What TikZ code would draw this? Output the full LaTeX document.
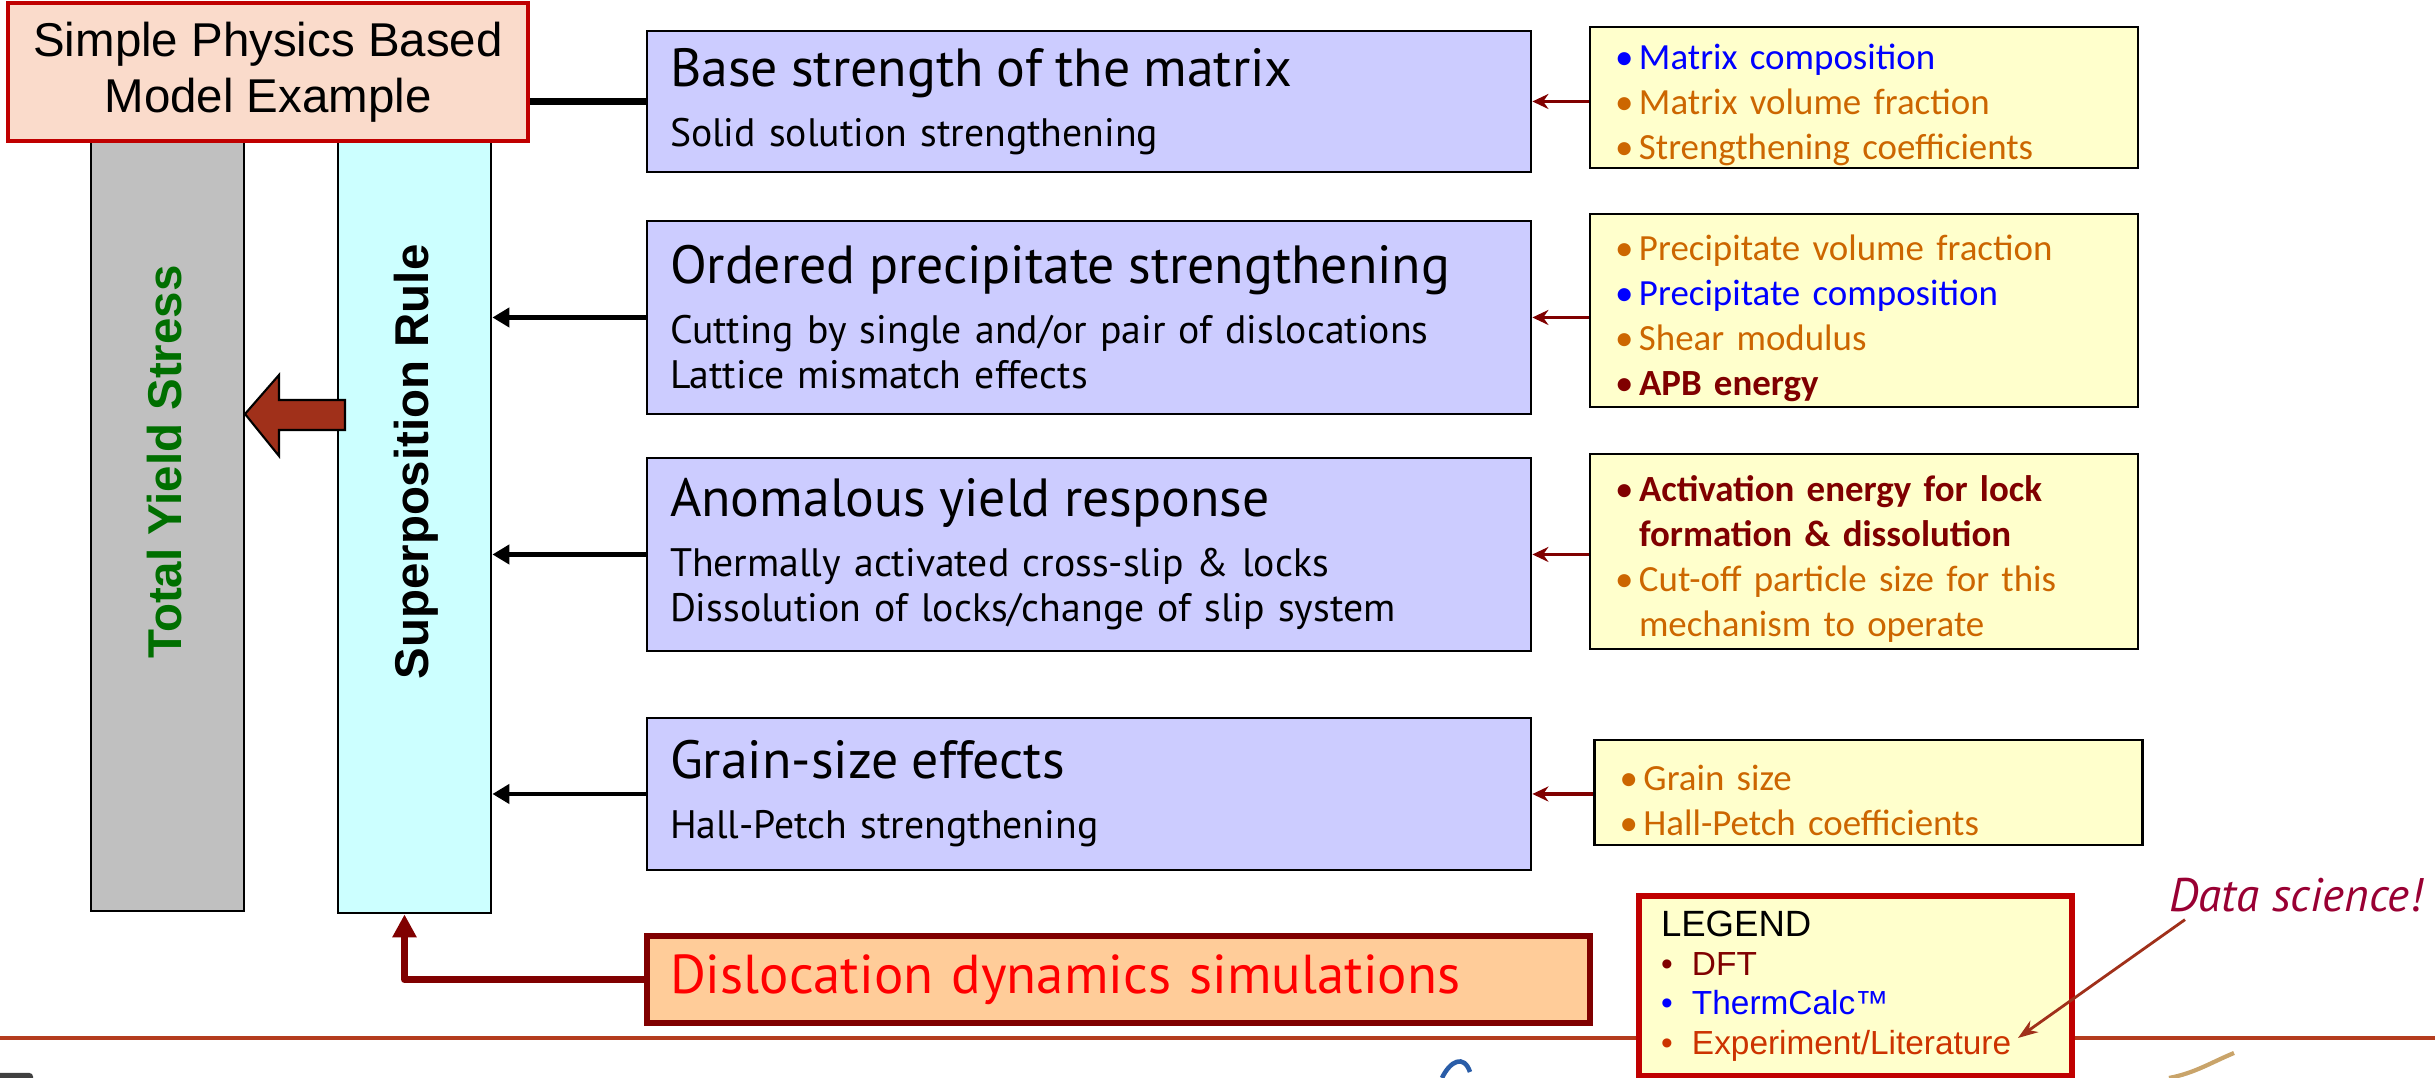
\documentclass[tikz,border=0pt]{standalone}
\usepackage{fontspec}
\setmainfont{Liberation Sans}
\newfontfamily\comicfont{PT Sans}
\newfontfamily\calibrifont{Carlito}
\usepackage{xcolor}
\usepackage{tikz}
\usetikzlibrary{arrows.meta,calc}

\definecolor{boxBlue}{HTML}{CCCCFF}
\definecolor{boxYellow}{HTML}{FFFFCC}
\definecolor{boxCyan}{HTML}{CCFFFF}
\definecolor{boxGray}{HTML}{C0C0C0}
\definecolor{boxPeach}{HTML}{FADBCB}
\definecolor{boxOrange}{HTML}{FFCC99}
\definecolor{darkRed}{HTML}{800000}
\definecolor{brightRed}{HTML}{C00000}
\definecolor{txtOrange}{HTML}{CC6600}
\definecolor{txtBlue}{HTML}{0000FF}
\definecolor{txtGreen}{HTML}{006F00}
\definecolor{txtLit}{HTML}{CC3300}
\definecolor{txtData}{HTML}{990033}
\definecolor{arrowBrown}{HTML}{A0301A}
\definecolor{ruleBrown}{HTML}{B43C1E}
\definecolor{logoTan}{HTML}{C9A46A}
\definecolor{logoBlue}{HTML}{2A5DA8}

\newcommand{\mechTitle}[1]{{\fontsize{15.3}{17}\selectfont #1}\\[4.3pt]}
\newcommand{\paramItem}[2]{\textcolor{#1}{\makebox[0.24cm][l]{\textbullet}#2}}
\newcommand{\paramCont}[2]{\textcolor{#1}{\hspace*{0.24cm}#2}}
\newcommand{\legendItem}[2]{\textcolor{#1}{\makebox[0.31cm][l]{\textbullet}#2}}

\tikzstyle{tsFrame} = [
    rectangle,
    draw=black,
    line width=0.8pt
]
\tikzstyle{tsBar} = [
    tsFrame,
    inner sep=0pt,
    minimum width=1.53cm
]
\tikzstyle{tsBarLabel} = [
    rotate=90,
    font=\bfseries\fontsize{13.5}{16}\selectfont
]
\tikzstyle{tsMechanism} = [
    tsFrame,
    fill=boxBlue,
    text width=8.38cm,
    inner xsep=0.23cm,
    align=left,
    font=\comicfont\fontsize{11.3}{12.8}\selectfont
]
\tikzstyle{tsParameters} = [
    tsFrame,
    fill=boxYellow,
    text width=4.98cm,
    inner xsep=0.25cm,
    inner ysep=0pt,
    align=left,
    font=\calibrifont\fontsize{10.5}{12.8}\selectfont,
    execute at begin node={\rule{0pt}{0.41cm}}
]
\tikzstyle{tsTitle} = [
    rectangle,
    draw=brightRed,
    line width=1.2pt,
    fill=boxPeach,
    align=center,
    minimum width=5.2cm,
    minimum height=1.38cm,
    font=\fontsize{13.5}{15.9}\selectfont
]
\tikzstyle{tsSimulation} = [
    rectangle,
    draw=darkRed,
    line width=1.7pt,
    fill=boxOrange,
    text=red,
    text width=8.97cm,
    inner xsep=0.23cm,
    inner ysep=0.1cm,
    minimum height=0.87cm,
    align=left,
    font=\comicfont\fontsize{15.6}{18}\selectfont
]
\tikzstyle{tsLegend} = [
    rectangle,
    draw=brightRed,
    line width=1.5pt,
    fill=boxYellow,
    text width=3.89cm,
    inner xsep=0.22cm,
    minimum height=1.8cm,
    align=left,
    font=\fontsize{9.5}{11.2}\selectfont
]
\tikzstyle{tsFeed} = [
    -{Triangle[length=0.17cm,width=0.19cm]},
    line width=1.4pt
]
\tikzstyle{tsInput} = [
    -{Stealth[length=0.16cm,width=0.15cm]},
    draw=darkRed,
    line width=1pt
]
\tikzstyle{tsSimLink} = [
    -{Triangle[length=0.23cm,width=0.23cm]},
    draw=darkRed,
    line width=2pt
]

\begin{document}
\begin{tikzpicture}

        \useasboundingbox (0,0) rectangle (24.35,10.78);

        % separator rule at the bottom of the slide
        \draw[draw=ruleBrown, line width=1.4pt] (0,0.40) -- (24.35,0.40);

        \node[  tsBar,
                fill=boxGray,
                minimum height=8.11cm] (yieldbar) at (1.675,5.725) {};

        \node[  tsBar,
                fill=boxCyan,
                minimum height=8.13cm] (superbar) at (4.145,5.715) {};

        \node[tsBarLabel, text=txtGreen] (yieldtext) at (1.65,6.16) {Total Yield Stress};
        \node[tsBarLabel] (supertext) at (4.16,6.16) {Superposition Rule};

        \node[tsTitle] (title) at (2.68,10.06) {Simple Physics Based\\Model Example};

        % block arrow from superposition to total stress
        \draw[fill=arrowBrown, draw=black, line width=0.6pt]
            (2.45,6.64) -- (2.79,7.03) -- (2.79,6.78) -- (3.45,6.78)
            -- (3.45,6.48) -- (2.79,6.48) -- (2.79,6.22) -- cycle;

        \node[  tsMechanism,
                minimum height=1.41cm] (base) at (10.89,9.765)
                {\mechTitle{Base strength of the matrix}
                 Solid solution strengthening};

        \node[  tsMechanism,
                minimum height=1.93cm] (ordered) at (10.89,7.605)
                {\mechTitle{Ordered precipitate strengthening}
                 Cutting by single and/or pair of dislocations\\
                 Lattice mismatch effects};

        \node[  tsMechanism,
                minimum height=1.93cm] (anomalous) at (10.89,5.235)
                {\mechTitle{Anomalous yield response}
                 Thermally activated cross-slip \& locks\\
                 Dissolution of locks/change of slip system};

        \node[  tsMechanism,
                minimum height=1.52cm] (grain) at (10.89,2.84)
                {\mechTitle{Grain-size effects}
                 Hall-Petch strengthening};

        \node[  tsParameters,
                minimum height=1.41cm] (pbase) at (18.64,9.805)
                {\paramItem{txtBlue}{Matrix composition}\\
                 \paramItem{txtOrange}{Matrix volume fraction}\\
                 \paramItem{txtOrange}{Strengthening coefficients}};

        \node[  tsParameters,
                minimum height=1.93cm] (pordered) at (18.64,7.675)
                {\paramItem{txtOrange}{Precipitate volume fraction}\\
                 \paramItem{txtBlue}{Precipitate composition}\\
                 \paramItem{txtOrange}{Shear modulus}\\
                 \paramItem{darkRed}{\textbf{APB energy}}};

        \node[  tsParameters,
                minimum height=1.95cm] (panomalous) at (18.64,5.265)
                {\paramItem{darkRed}{\textbf{Activation energy for lock}}\\
                 \paramCont{darkRed}{\textbf{formation \& dissolution}}\\
                 \paramItem{txtOrange}{Cut-off particle size for this}\\
                 \paramCont{txtOrange}{mechanism to operate}};

        \node[  tsParameters,
                minimum height=1.05cm] (pgrain) at (18.685,2.855)
                {\paramItem{txtOrange}{Grain size}\\
                 \paramItem{txtOrange}{Hall-Petch coefficients}};

        \node[tsSimulation] (sim) at (11.185,0.985) {Dislocation dynamics simulations};

        \node[tsLegend] (legend) at (18.555,0.92)
                {{\fontsize{10.4}{12}\selectfont LEGEND}\\
                 \legendItem{darkRed}{DFT}\\
                 \legendItem{txtBlue}{ThermCalc™}\\
                 \legendItem{txtLit}{Experiment/Literature}};

        \node[  inner sep=0pt,
                text=txtData,
                font=\comicfont\itshape\fontsize{13.4}{16}\selectfont] (datasci) at (22.96,1.83) {Data science!};
        \coordinate (litref) at (20.18,0.40);

        \draw[line width=2pt] (base.west) -- (base.west -| title.east);
        \draw[tsFeed] (ordered.west) -- (ordered.west -| superbar.east);
        \draw[tsFeed] (anomalous.west) -- (anomalous.west -| superbar.east);
        \draw[tsFeed] (grain.west) -- (grain.west -| superbar.east);

        \draw[tsInput] (base.east -| pbase.west) -- (base.east);
        \draw[tsInput] (ordered.east -| pordered.west) -- (ordered.east);
        \draw[tsInput] (anomalous.east -| panomalous.west) -- (anomalous.east);
        \draw[tsInput] (grain.east -| pgrain.west) -- (grain.east);

        \draw[tsSimLink, line join=round] (sim.west) -| ([xshift=-0.1cm]superbar.south);

        \draw[-{Stealth[length=0.2cm,width=0.14cm]}, draw=arrowBrown, line width=0.8pt]
            ([xshift=-1.11cm,yshift=-0.07cm]datasci.south) -- (litref);

        % cut-off logo pieces along the bottom edge
        \fill[black!75, rounded corners=1pt] (-0.1,-0.1) rectangle (0.33,0.05);
        \draw[draw=logoBlue, line width=1.3pt] (14.42,0) .. controls (14.5,0.17) and (14.64,0.24) .. (14.7,0.06);
        \draw[draw=logoTan, line width=1.2pt] (22.34,0.25) .. controls (22.1,0.15) and (21.95,0.05) .. (21.69,0);

\end{tikzpicture}
\end{document}
